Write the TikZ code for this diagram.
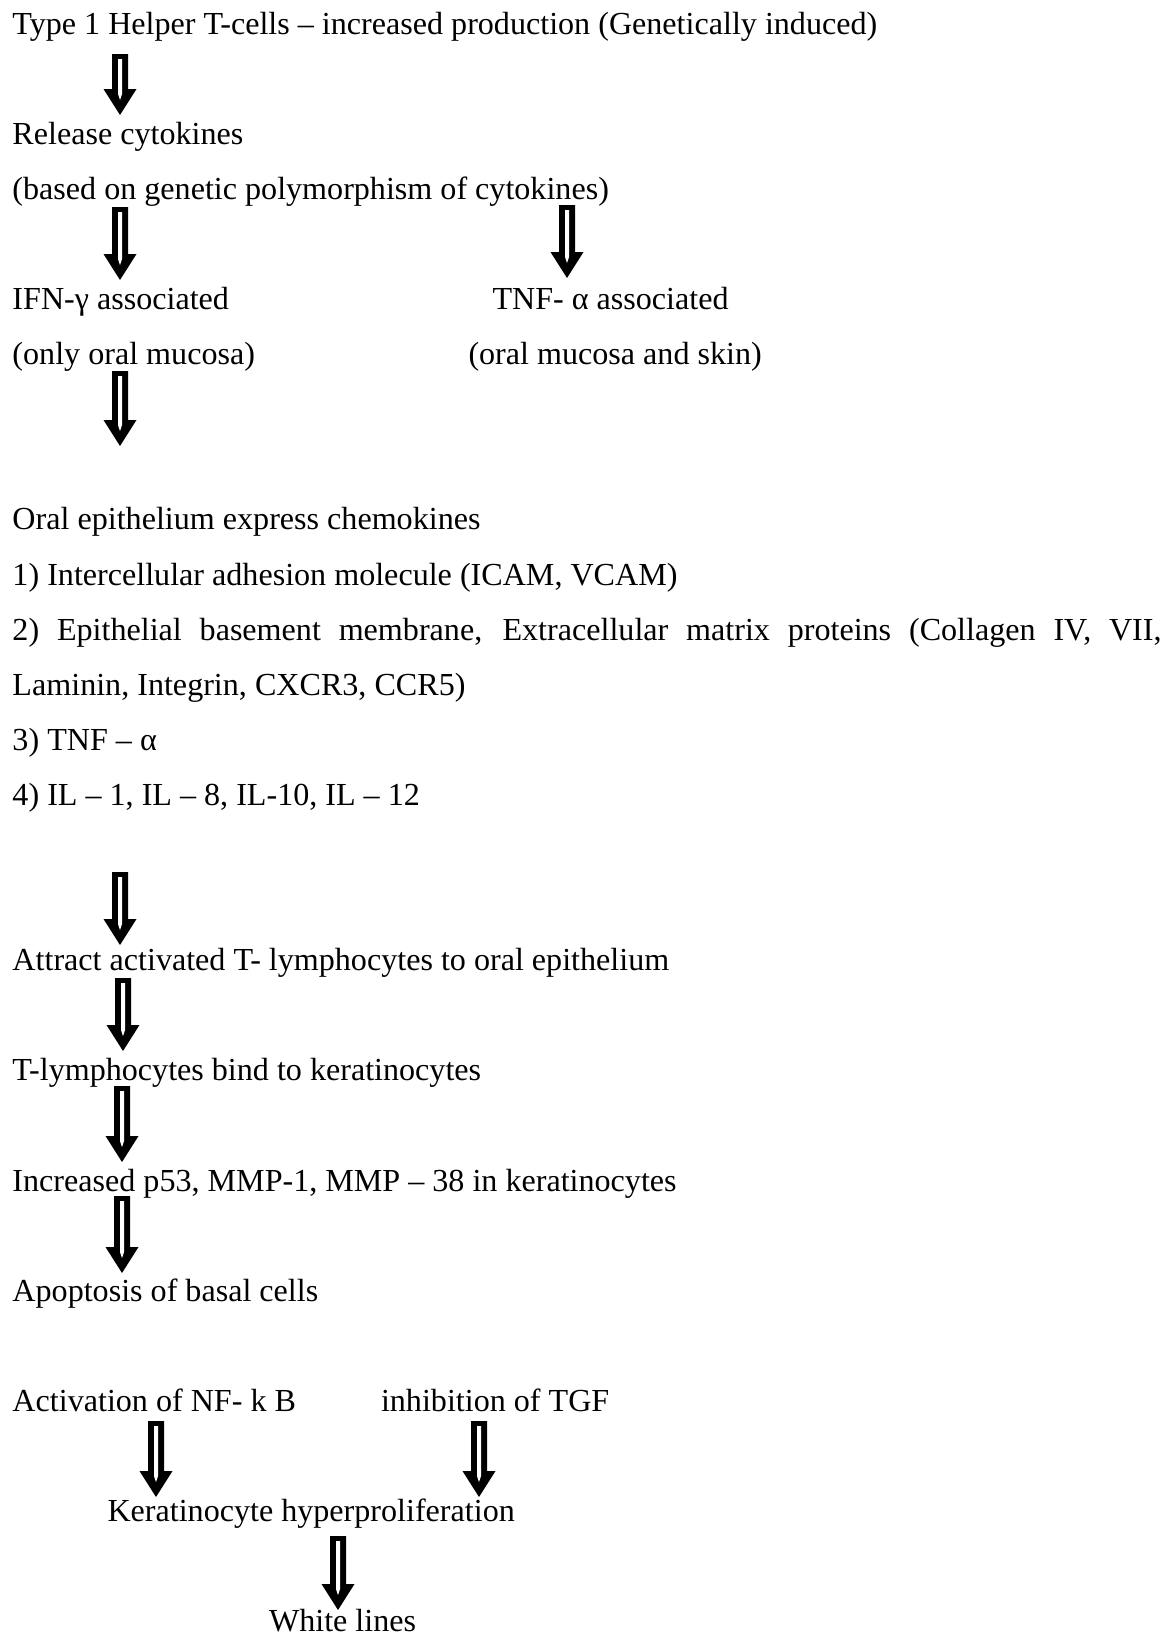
\documentclass[tikz,border=0pt]{standalone}
\usepackage{fontspec}
\setmainfont{Liberation Serif}
\usetikzlibrary{calc}
\tikzset{
  txt/.style={anchor=base west, inner sep=0pt, outer sep=0pt, font=\fontsize{32.1}{55.1}\selectfont},
}
\newcommand{\fatarrow}[2]{%
  \fill[black] let \p1=(#1), \p2=(#2) in
    (\x1-8pt,\y1) -- (\x1+8pt,\y1) -- (\x1+8pt,\y2+26pt) -- (\x1+16.5pt,\y2+26pt)
    -- (\x1,\y2) -- (\x1-16.5pt,\y2+26pt) -- (\x1-8pt,\y2+26pt) -- cycle;
  \fill[white] let \p1=(#1), \p2=(#2) in
    (\x1-2pt,\y1-5pt) -- (\x1+2pt,\y1-5pt) -- (\x1+2pt,\y2+21pt)
    -- (\x1,\y2+15pt) -- (\x1-2pt,\y2+21pt) -- cycle;
}
\begin{document}
\begin{tikzpicture}[x=1pt,y=-1pt]
\useasboundingbox (0,0) rectangle (1174,1636);
% text lines (baselines)
\node[txt] (t1) at (12.5,34) {Type 1 Helper T-cells -- increased production (Genetically induced)};
\node[txt] (t2) at (12.5,144.2) {Release cytokines};
\node[txt] (t3) at (12.5,199.3) {(based on genetic polymorphism of cytokines)};
\node[txt] (ifn) at (12.5,309.5) {IFN-γ associated};
\node[txt] (ifn2) at (12.5,364.6) {(only oral mucosa)};
\node[txt] (tnf) at (492.5,309.5) {TNF- α associated};
\node[txt] (tnf2) at (468.5,364.6) {(oral mucosa and skin)};
\node[txt] (oe) at (12.5,529.9) {Oral epithelium express chemokines};
\node[txt] (l1) at (12.5,585) {1) Intercellular adhesion molecule (ICAM, VCAM)};
\node[txt] (l2) at (12.5,640.1) {\makebox[1149pt][s]{2) Epithelial basement membrane, Extracellular matrix proteins (Collagen IV, VII,}};
\node[txt] (l2b) at (12.5,695.2) {Laminin, Integrin, CXCR3, CCR5)};
\node[txt] (l3) at (12.5,750.3) {3) TNF -- α};
\node[txt] (l4) at (12.5,805.4) {4) IL -- 1, IL -- 8, IL-10, IL -- 12};
\node[txt] (att) at (12.5,970.7) {Attract activated T- lymphocytes to oral epithelium};
\node[txt] (bind) at (12.5,1080.9) {T-lymphocytes bind to keratinocytes};
\node[txt] (inc) at (12.5,1191.1) {Increased p53, MMP-1, MMP -- 38 in keratinocytes};
\node[txt] (apo) at (12.5,1301.3) {Apoptosis of basal cells};
\node[txt] (nfkb) at (12.5,1411.5) {Activation of NF- k B};
\node[txt] (tgf) at (381,1411.5) {inhibition of TGF};
\node[txt] (ker) at (107.5,1521.7) {Keratinocyte hyperproliferation};
\node[txt] (wl) at (269,1631.5) {White lines};
% arrow end points
\coordinate (a1s) at (120,54);   \coordinate (a1e) at (120,115);
\coordinate (a2s) at (120,207);  \coordinate (a2e) at (120,280);
\coordinate (a3s) at (567,205);  \coordinate (a3e) at (567,278);
\coordinate (a4s) at (120,371);  \coordinate (a4e) at (120,446);
\coordinate (a5s) at (120,872);  \coordinate (a5e) at (120,945);
\coordinate (a6s) at (123,978);  \coordinate (a6e) at (123,1051);
\coordinate (a7s) at (122,1086); \coordinate (a7e) at (122,1162);
\coordinate (a8s) at (122,1196); \coordinate (a8e) at (122,1273);
\coordinate (a9s) at (156,1421); \coordinate (a9e) at (156,1497);
\coordinate (a10s) at (479,1421); \coordinate (a10e) at (479,1497);
\coordinate (a11s) at (338,1536); \coordinate (a11e) at (338,1610);
\fatarrow{a1s}{a1e}
\fatarrow{a2s}{a2e}
\fatarrow{a3s}{a3e}
\fatarrow{a4s}{a4e}
\fatarrow{a5s}{a5e}
\fatarrow{a6s}{a6e}
\fatarrow{a7s}{a7e}
\fatarrow{a8s}{a8e}
\fatarrow{a9s}{a9e}
\fatarrow{a10s}{a10e}
\fatarrow{a11s}{a11e}
\end{tikzpicture}
\end{document}
